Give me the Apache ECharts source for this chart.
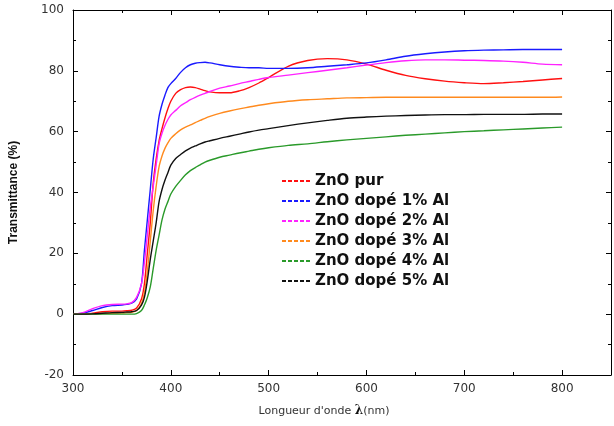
<!DOCTYPE html>
<html>
<head>
<meta charset="utf-8">
<script src="https://cdn.jsdelivr.net/npm/echarts/dist/echarts.min.js"></script>
<style>
  html, body { margin: 0; padding: 0; background: #fff; }
  #chart { width: 614px; height: 426px; }
</style>
</head>
<body>
<div id="chart"></div>
<script>
// longueurs d'onde (nm)
var wl = [300,310,320,330,340,350,355,360,365,370,373,376,379,382,385,388,391,394,397,400,
          405,410,415,420,425,430,435,440,450,460,470,480,490,500,520,540,560,580,600,
          620,640,660,680,700,720,740,760,780,800];

var pur  = [0,0,0.3,0.8,1,1,1.1,1.3,2,5,10,20,30,43,51,57,61,64.5,67.5,70,
            72.6,73.8,74.5,74.7,74.5,74,73.5,73.1,72.8,72.8,73.4,74.5,76,77.8,81.5,83.4,84,83.6,82.2,
            80.2,78.5,77.4,76.6,76.1,75.8,76.1,76.5,77,77.5];
var al1  = [0,0.3,1.2,2.2,2.8,3,3.2,3.6,5,10,21,31,41,51,58,65,69,72,74.5,75.8,
            77.5,79.5,81,82,82.5,82.7,82.8,82.6,82,81.5,81.2,81,81,80.8,80.8,81,81.5,82,82.6,
            83.6,84.8,85.6,86.2,86.6,86.8,86.9,87,87,87];
var al2  = [0,0.5,1.8,2.8,3.2,3.3,3.4,3.8,5.5,10,17,26,35,42,49,56,59.5,62,64,65.5,
            67,68.5,69.5,70.5,71.3,72,72.6,73.2,74.3,75,75.8,76.5,77.2,77.8,78.6,79.4,80.2,81,81.9,
            82.7,83.3,83.6,83.6,83.5,83.4,83.2,82.8,82.2,82];
var al3  = [0,0,0.1,0.2,0.3,0.4,0.5,0.6,1.2,3.5,7,14,24,34,42,48.5,52,54.5,56.3,57.8,
            59.3,60.6,61.5,62.2,63,63.7,64.4,65,66,66.8,67.5,68.1,68.7,69.2,70,70.5,70.8,71.1,71.2,
            71.3,71.3,71.3,71.3,71.3,71.3,71.3,71.3,71.3,71.4];
var al4  = [0,0,0,0,0,0,0,0,0.2,1.2,3,5.5,9,15,21,26,31,34.5,37,39.5,
            42,44,45.8,47.2,48.2,49.1,50,50.6,51.6,52.3,53,53.6,54.2,54.7,55.5,56,56.7,57.3,57.8,
            58.3,58.8,59.2,59.6,60,60.3,60.6,60.9,61.2,61.5];
var al5  = [0,0,0.1,0.3,0.5,0.6,0.7,0.8,1.2,3,5.5,11,18,24,30,37,41,44,46.5,49,
            51.2,52.5,53.7,54.6,55.3,56,56.6,57,57.8,58.5,59.2,59.9,60.5,61,62,62.9,63.7,64.4,64.8,
            65.1,65.3,65.5,65.6,65.6,65.7,65.7,65.7,65.8,65.8];

var names  = ['ZnO pur','ZnO dopé 1% Al','ZnO dopé 2% Al','ZnO dopé 3% Al','ZnO dopé 4% Al','ZnO dopé 5% Al'];
var values = [pur, al1, al2, al3, al4, al5];
var colors = ['#ff1010','#1a1aff','#ff22ff','#ff8a1e','#2a9a2a','#111111'];

var dashIcon = 'path://M0,0h4v2h-4z M6,0h4v2h-4z M12,0h4v2h-4z M18,0h4v2h-4z M24,0h4v2h-4z';

function pairs(ys) {
  return wl.map(function (x, i) { return [x, ys[i]]; });
}

var chart = echarts.init(document.getElementById('chart'));

var tickStyle = { show: true, inside: true, length: 5, lineStyle: { color: '#000', width: 1 } };
var minorStyle = { show: true, splitNumber: 2, length: 3, lineStyle: { color: '#000', width: 1 } };
var lineAx = { show: true, onZero: false, lineStyle: { color: '#000', width: 1 } };

var option = {
  backgroundColor: '#fff',
  animation: false,
  color: colors,
  grid: { left: 73, right: -1, top: 10, bottom: 51 },
  legend: {
    orient: 'vertical',
    left: 277,
    top: 168,
    itemWidth: 28,
    itemHeight: 2,
    itemGap: 4,
    icon: dashIcon,
    data: names,
    textStyle: { fontFamily: 'DejaVu Sans', fontWeight: 'bold', fontSize: 15, lineHeight: 16, color: '#111' }
  },
  xAxis: [
    {
      type: 'value', min: 300, max: 850, interval: 100, position: 'bottom',
      axisLine: lineAx, axisTick: tickStyle, minorTick: minorStyle, splitLine: { show: false },
      axisLabel: {
        margin: 8, fontFamily: 'DejaVu Sans', fontSize: 12, color: '#333',
        formatter: function (v) { return v > 800 ? '' : v; }
      },
      name: "Longueur d'onde {b|λ}(nm)",
      nameLocation: 'middle',
      nameGap: 30,
      nameTextStyle: {
        fontFamily: 'DejaVu Sans', fontSize: 11, color: '#333', padding: [0, 36, 0, 0],
        rich: { b: { fontFamily: 'DejaVu Serif', fontWeight: 'bold', fontSize: 12, color: '#111' } }
      }
    },
    {
      type: 'value', min: 300, max: 850, interval: 100, position: 'top',
      axisLine: lineAx, axisTick: tickStyle, minorTick: minorStyle,
      axisLabel: { show: false }, splitLine: { show: false }
    }
  ],
  yAxis: [
    {
      type: 'value', min: -20, max: 100, interval: 20, position: 'left',
      axisLine: lineAx, axisTick: tickStyle, minorTick: minorStyle, splitLine: { show: false },
      axisLabel: { margin: 9, fontFamily: 'DejaVu Sans', fontSize: 12, color: '#333' },
      name: 'Transmittance (%)',
      nameLocation: 'middle',
      nameRotate: 90,
      nameGap: 53,
      nameTextStyle: { fontFamily: 'Liberation Sans', fontWeight: 'bold', fontSize: 12, color: '#111' }
    },
    {
      type: 'value', min: -20, max: 100, interval: 20, position: 'right',
      axisLine: lineAx, axisTick: tickStyle, minorTick: minorStyle,
      axisLabel: { show: false }, splitLine: { show: false }
    }
  ],
  series: names.map(function (n, i) {
    return {
      name: n,
      type: 'line',
      xAxisIndex: 0,
      yAxisIndex: 0,
      showSymbol: false,
      smooth: 0.3,
      lineStyle: { width: 1.4, color: colors[i] },
      itemStyle: { color: colors[i] },
      data: pairs(values[i])
    };
  })
};

chart.setOption(option);
</script>
</body>
</html>
